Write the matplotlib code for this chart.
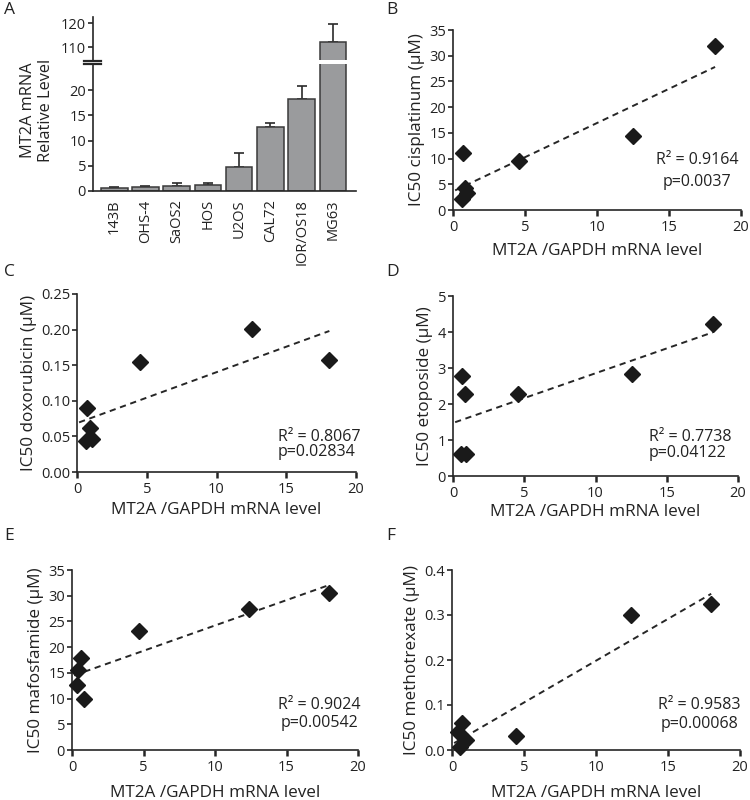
import numpy as np
import matplotlib
matplotlib.use("Agg")
import matplotlib.pyplot as plt
from matplotlib.ticker import FormatStrFormatter

plt.rcParams['font.family'] = ['Open Sans', 'DejaVu Sans']

# ---------------- data ----------------
cell_lines = ["143B", "OHS-4", "SaOS2", "HOS", "U2OS", "CAL72", "IOR/OS18", "MG63"]
mt2a_level = [0.66, 0.8, 0.93, 1.1, 4.77, 12.7, 18.3, 112.1]
mt2a_err = [0.2, 0.2, 0.7, 0.55, 2.85, 0.8, 2.6, 7.3]

x_b = [0.65, 0.72, 0.82, 1.0, 4.6, 12.5, 18.2]
y_cisplatin = [2.1, 11.0, 4.2, 3.4, 9.6, 14.4, 31.8]

x_c = [0.72, 0.62, 0.9, 1.08, 4.55, 12.56, 18.09]
y_doxorubicin = [0.090, 0.044, 0.062, 0.047, 0.154, 0.201, 0.158]

x_d = [0.61, 0.83, 0.59, 0.9, 4.55, 12.57, 18.23]
y_etoposide = [2.77, 2.27, 0.62, 0.62, 2.27, 2.84, 4.21]

x_e = [0.66, 0.42, 0.35, 0.82, 4.69, 12.38, 18.0]
y_mafosfamide = [17.95, 15.55, 12.6, 10.0, 23.2, 27.5, 30.5]

x_f = [0.7, 0.4, 0.56, 0.94, 4.46, 12.44, 18.0]
y_methotrexate = [0.061, 0.041, 0.007, 0.022, 0.031, 0.299, 0.324]

stats_text = [("R\u00b2 = 0.9164", "p=0.0037"),
              ("R\u00b2 = 0.8067", "p=0.02834"),
              ("R\u00b2 = 0.7738", "p=0.04122"),
              ("R\u00b2 = 0.9024", "p=0.00542"),
              ("R\u00b2 = 0.9583", "p=0.00068")]
ylabels = ["IC50 cisplatinum (\u00b5M)", "IC50 doxorubicin (\u00b5M)",
           "IC50 etoposide (\u00b5M)", "IC50 mafosfamide (\u00b5M)",
           "IC50 methotrexate (\u00b5M)"]
xlabel = "MT2A /GAPDH mRNA level"

# ---------------- figure ----------------
W, H = 750, 800
fig = plt.figure(figsize=(W / 100, H / 100), dpi=100)
DARK = "#262626"
TXT = "#222222"
TICK_FS = 10.5
LABEL_FS = 12.3
STAT_FS = 11.5


def add_ax(left, top, right, bottom):
    return fig.add_axes([left / W, 1 - bottom / H, (right - left) / W, (bottom - top) / H])


def style(ax):
    for s in ("top", "right"):
        ax.spines[s].set_visible(False)
    for s in ("left", "bottom"):
        ax.spines[s].set_linewidth(1.2)
        ax.spines[s].set_color(DARK)
    ax.tick_params(axis="y", direction="out", length=3.5, width=1.2, color=DARK,
                   labelsize=TICK_FS, labelcolor=TXT, pad=1.5)
    ax.tick_params(axis="x", direction="out", length=4.5, width=1.8, color=DARK,
                   labelsize=TICK_FS, labelcolor=TXT, pad=3)


# ---------------- panel A (broken axis) ----------------
axA_hi = add_ax(93, 17, 356, 60)
axA_lo = add_ax(93, 64, 356, 191)
xpos = np.arange(len(cell_lines))
for ax in (axA_hi, axA_lo):
    ax.bar(xpos, mt2a_level, width=0.85, color="#9a9b9d", edgecolor="#3a3a3a", linewidth=1.1, zorder=2)
    ax.errorbar(xpos, mt2a_level, yerr=[np.zeros(len(mt2a_err)), mt2a_err], fmt="none",
                ecolor="#2a2a2a", elinewidth=1.2, capsize=3.5, capthick=1.2, zorder=1)
    ax.set_xlim(-0.68, 7.74)
    style(ax)
axA_lo.set_ylim(0, 25.2)
axA_lo.set_yticks([0, 5, 10, 15, 20])
axA_lo.set_xticks(xpos)
axA_lo.set_xticklabels(cell_lines, rotation=90, fontsize=TICK_FS)
axA_lo.tick_params(axis="x", length=0, pad=6)
axA_hi.set_ylim(104.6, 122.5)
axA_hi.set_yticks([110, 120])
axA_hi.spines["bottom"].set_visible(False)
axA_hi.set_xticks([])
# break marks
for yy in (60.5, 63.5):
    fig.add_artist(plt.Line2D([84 / W, 101 / W], [1 - yy / H, 1 - yy / H], color=DARK, lw=1.6))
fig.text(37 / W, 1 - 110 / H, "MT2A mRNA\nRelative Level", rotation=90, ha="center", va="center",
         fontsize=11.8, color=TXT, multialignment="center", linespacing=1.1)

# ---------------- scatter panels ----------------
panels = [
    (x_b, y_cisplatin, (453, 30, 741, 210), (0, 35), [0, 5, 10, 15, 20, 25, 30, 35], None,
     (0.847, 0.278, 0.156, "center"), 5.5),
    (x_c, y_doxorubicin, (77, 294, 356, 472), (0, 0.25), [0, 0.05, 0.10, 0.15, 0.20, 0.25], "%.2f",
     (0.72, 0.197, 0.112, "left"), 3),
    (x_d, y_etoposide, (453, 296, 738, 476), (0, 5), [0, 1, 2, 3, 4, 5], None,
     (0.688, 0.217, 0.128, "left"), 2),
    (x_e, y_mafosfamide, (72, 570, 358, 750), (0, 35), [0, 5, 10, 15, 20, 25, 30, 35], None,
     (0.865, 0.25, 0.15, "center"), 7),
    (x_f, y_methotrexate, (452, 570, 740, 750), (0, 0.4), [0, 0.1, 0.2, 0.3, 0.4], "%.1f",
     (0.858, 0.25, 0.144, "center"), 7),
]

for i, (xs, ys, box, ylim, yt, fmt, tpos, xlpad) in enumerate(panels):
    ax = add_ax(box[0], box[1], box[2], box[3])
    style(ax)
    xs = np.asarray(xs)
    ys = np.asarray(ys)
    slope, icpt = np.polyfit(xs, ys, 1)
    xl = np.array([0.15, xs.max()])
    ax.plot(xl, slope * xl + icpt, ls=(0, (3.2, 2.4)), color=DARK, lw=1.4, zorder=1)
    ax.plot(xs, ys, ls="none", marker="D", ms=8, color="#1a1a1a", zorder=3, clip_on=False)
    ax.set_xlim(0, 20)
    ax.set_ylim(*ylim)
    ax.set_xticks([0, 5, 10, 15, 20])
    ax.set_yticks(yt)
    if fmt:
        ax.yaxis.set_major_formatter(FormatStrFormatter(fmt))
    ax.set_xlabel(xlabel, fontsize=LABEL_FS, color=TXT, labelpad=xlpad)
    ax.set_ylabel(ylabels[i], fontsize=LABEL_FS, color=TXT, labelpad=3)
    tx, ty1, ty2, ha = tpos
    ax.text(tx, ty1, stats_text[i][0], transform=ax.transAxes, ha=ha, va="center", fontsize=STAT_FS, color=TXT)
    ax.text(tx, ty2, stats_text[i][1], transform=ax.transAxes, ha=ha, va="center", fontsize=STAT_FS, color=TXT)

# panel letters
for letter, (px, py) in zip("ABCDEF", [(4, 2), (386, 2), (4, 264), (386, 264), (4, 528), (386, 528)]):
    fig.text(px / W, 1 - py / H, letter, ha="left", va="top", fontsize=12.5, color=TXT)

fig.savefig("out.png", dpi=100, facecolor="white")
